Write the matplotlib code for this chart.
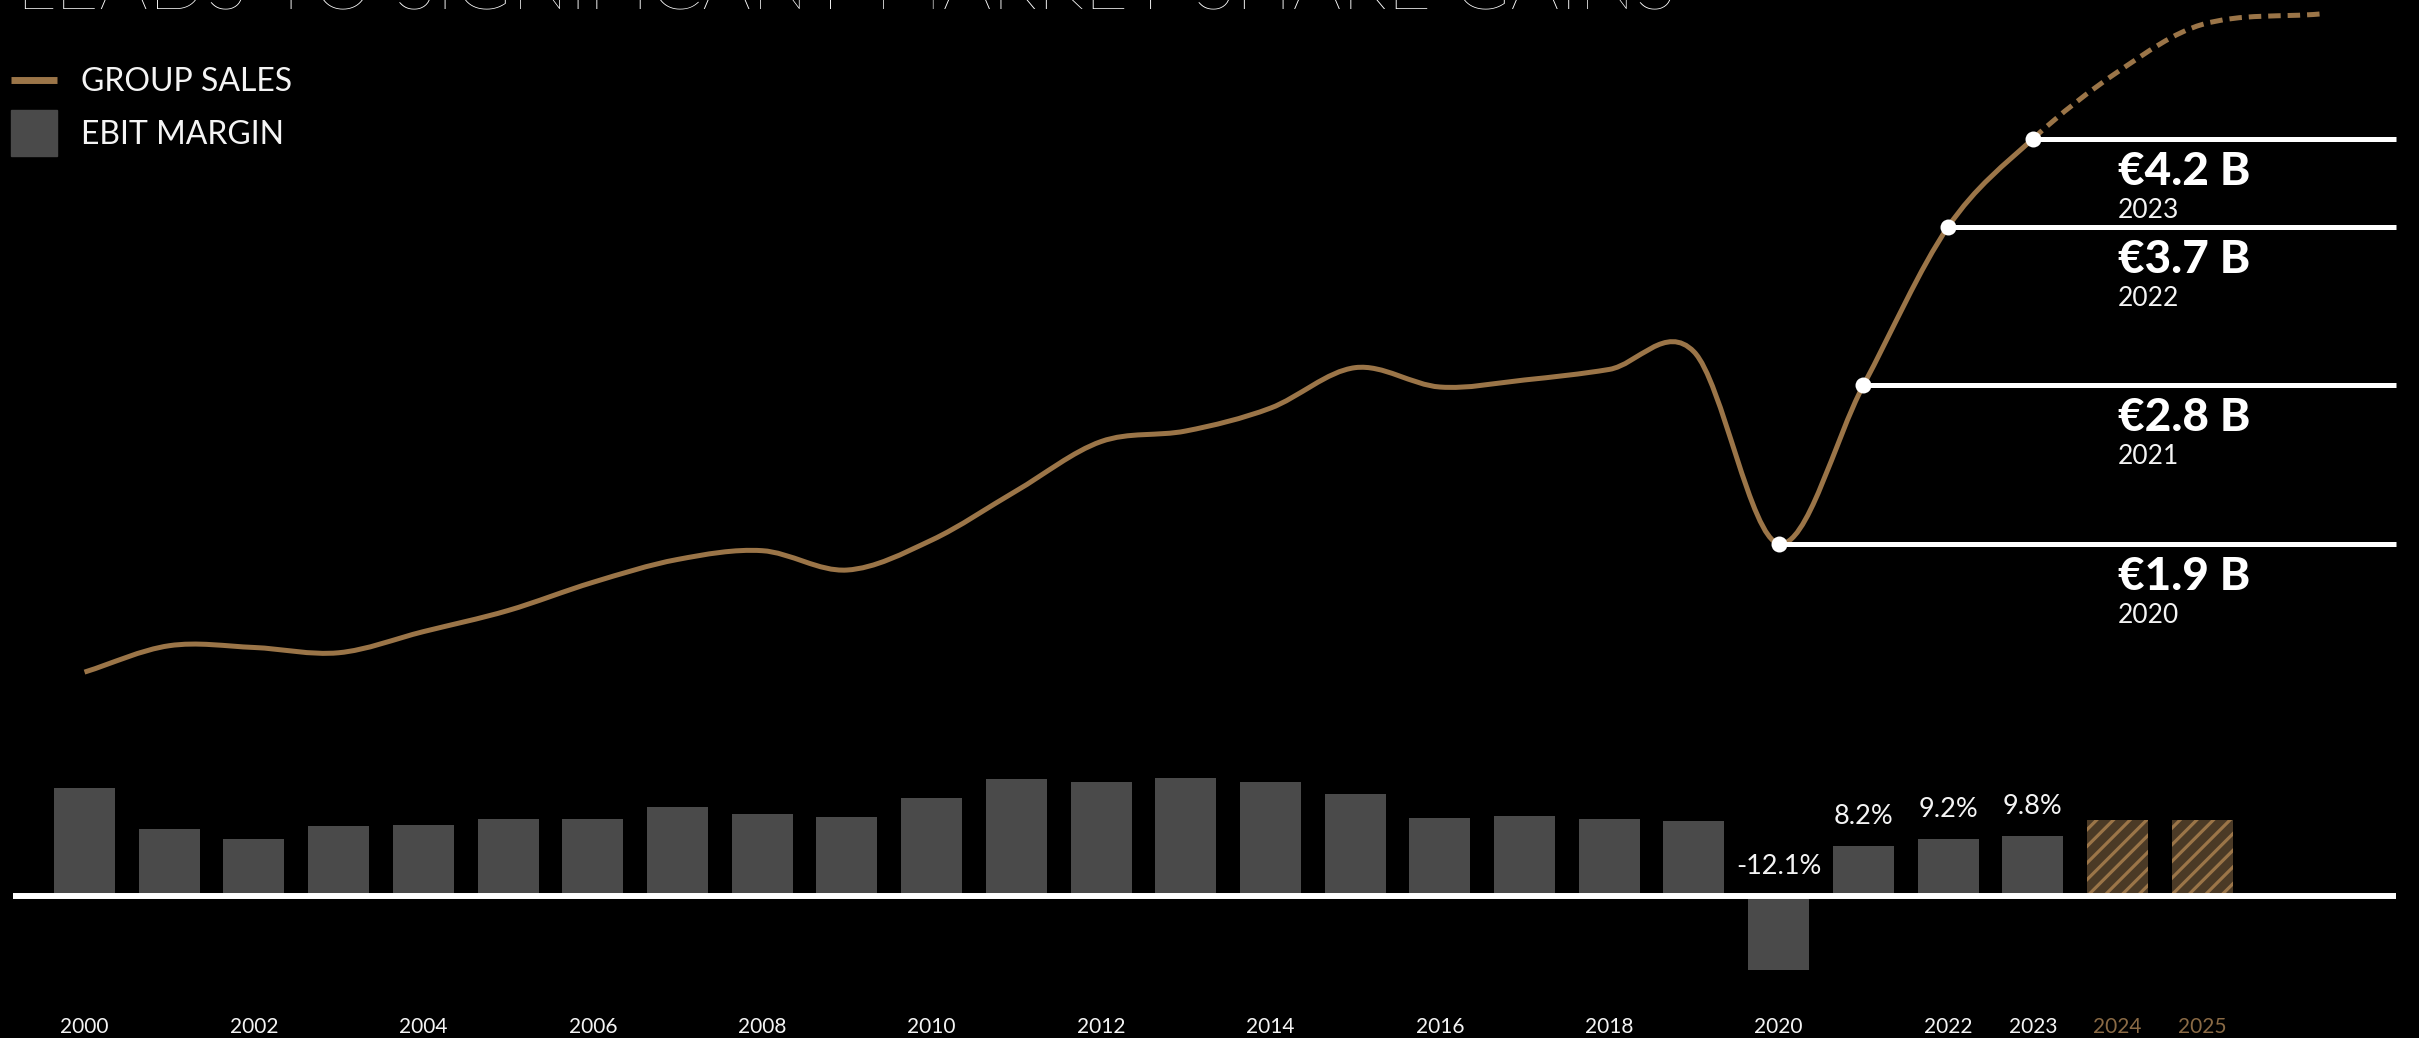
import matplotlib
matplotlib.use("Agg")
import matplotlib.pyplot as plt
import numpy as np
from matplotlib.path import Path
from matplotlib.patches import PathPatch, Rectangle
from matplotlib.lines import Line2D

plt.rcParams["font.family"] = ["Lato", "DejaVu Sans"]
plt.rcParams["hatch.linewidth"] = 2.3
plt.rcParams["lines.scale_dashes"] = False

W, H, DPI = 2419, 1038, 100

BG = "#000000"
BRONZE = "#9b7548"
BAR_GREY = "#4a4a4a"
HATCH_BG = "#4b3a26"
FUTURE_LABEL = "#8a6a45"
TEXT = "#f4f4f4"

# Group sales, EUR billion
sales_years = list(range(2000, 2024))
sales = [1.17, 1.32, 1.31, 1.28, 1.40, 1.52, 1.68, 1.81, 1.86, 1.75,
         1.92, 2.20, 2.48, 2.54, 2.67, 2.90, 2.79, 2.83, 2.89, 2.99,
         1.9, 2.8, 3.7, 4.2]
forecast_years = [2024, 2025, 2026.4]
forecast_sales = [4.58, 4.85, 4.91]

# EBIT margin, %
margin_years = list(range(2000, 2026))
margin = [17.5, 10.9, 9.2, 11.4, 11.5, 12.6, 12.6, 14.5, 13.4, 12.9,
          15.9, 19.0, 18.5, 19.2, 18.5, 16.6, 12.7, 13.0, 12.5, 12.2,
          -12.1, 8.2, 9.2, 9.8, 12.4, 12.4]
first_forecast_year = 2024

callout_years = [2020, 2021, 2022, 2023]
margin_label_years = [2020, 2021, 2022, 2023]
tick_years = [2000, 2002, 2004, 2006, 2008, 2010, 2012, 2014, 2016, 2018,
              2020, 2022, 2023, 2024, 2025]

title_text = "LEADS TO SIGNIFICANT MARKET SHARE GAINS"


def fx(px):
    return px / W


def fy(py):
    return 1 - py / H


def smooth_path(xs, ys):
    """Cardinal (Catmull-Rom style) curve through the points as cubic Beziers."""
    xs = np.asarray(xs, float)
    ys = np.asarray(ys, float)
    m = np.empty_like(ys)
    m[1:-1] = (ys[2:] - ys[:-2]) / (xs[2:] - xs[:-2])
    m[0] = (ys[1] - ys[0]) / (xs[1] - xs[0])
    m[-1] = (ys[-1] - ys[-2]) / (xs[-1] - xs[-2])
    verts = [(xs[0], ys[0])]
    codes = [Path.MOVETO]
    for i in range(len(xs) - 1):
        dx = xs[i + 1] - xs[i]
        verts += [(xs[i] + dx / 3, ys[i] + m[i] * dx / 3),
                  (xs[i + 1] - dx / 3, ys[i + 1] - m[i + 1] * dx / 3),
                  (xs[i + 1], ys[i + 1])]
        codes += [Path.CURVE4] * 3
    return verts, codes


fig = plt.figure(figsize=(W / DPI, H / DPI), dpi=DPI, facecolor=BG)

px_per_year = 84.71
x_left = 2000 - 84.5 / px_per_year
xlim = (x_left, x_left + W / px_per_year)
line_end = x_left + 2396 / px_per_year

ax_bar = fig.add_axes([0, 0, 1, 1])
ax_bar.set_xlim(xlim)
ax_bar.set_ylim(-23.09, 145.69)
ax_bar.axis("off")

ax_line = fig.add_axes([0, 0, 1, 1])
ax_line.set_xlim(xlim)
ax_line.set_ylim(-0.909, 4.989)
ax_line.axis("off")

# --- EBIT margin bars
hist_x = [y for y in margin_years if y < first_forecast_year]
hist_v = [v for y, v in zip(margin_years, margin) if y < first_forecast_year]
fc_x = [y for y in margin_years if y >= first_forecast_year]
fc_v = [v for y, v in zip(margin_years, margin) if y >= first_forecast_year]

ax_bar.bar(hist_x, hist_v, width=0.72, color=BAR_GREY, linewidth=0, zorder=2)
ax_bar.bar(fc_x, fc_v, width=0.72, facecolor=HATCH_BG, edgecolor=BRONZE,
           hatch="//", linewidth=0, zorder=2)
ax_bar.hlines(0, x_left + 13 / px_per_year, line_end, color="white",
              linewidth=4.3, zorder=3)

for yr in margin_label_years:
    v = margin[margin_years.index(yr)]
    ax_bar.annotate(f"{v:.1f}%", xy=(yr, max(v, 0)), xytext=(0, 22),
                    textcoords="offset pixels", ha="center", va="baseline",
                    fontsize=19.5, color=TEXT)

for yr in tick_years:
    ax_bar.text(yr, fy(1033), str(yr), transform=ax_bar.get_xaxis_transform(),
                ha="center", va="baseline", fontsize=15,
                color=FUTURE_LABEL if yr >= first_forecast_year else TEXT)

# --- group sales curve: actuals solid, outlook dashed
all_x = sales_years + forecast_years
all_y = sales + forecast_sales
verts, codes = smooth_path(all_x, all_y)
n_solid = 1 + 3 * (len(sales_years) - 1)
solid = Path(verts[:n_solid], codes[:n_solid])
dashed = Path(verts[n_solid - 1:], [Path.MOVETO] + codes[n_solid:])
ax_line.add_patch(PathPatch(solid, fill=False, edgecolor=BRONZE,
                            linewidth=3.6, capstyle="butt", zorder=3))
ax_line.add_patch(PathPatch(dashed, fill=False, edgecolor=BRONZE,
                            linewidth=3.6, linestyle=(0, (9, 5)),
                            capstyle="butt", zorder=3))

# callouts: leader line from each dot, value and year underneath
for yr in callout_years:
    v = sales[sales_years.index(yr)]
    ax_line.hlines(v, yr, line_end, color="white", linewidth=3.6, zorder=4)
    ax_line.plot(yr, v, "o", color="white", markersize=11.5,
                 markeredgewidth=0, zorder=5)
    ax_line.annotate(f"€{v:.1f} B", xy=(2024, v), xytext=(0, -46),
                     textcoords="offset pixels", ha="left", va="baseline",
                     fontsize=33, fontweight="black", color="white")
    ax_line.annotate(str(yr), xy=(2024, v), xytext=(0, -79),
                     textcoords="offset pixels", ha="left", va="baseline",
                     fontsize=19, color=TEXT)

# --- legend
fig.add_artist(Line2D([fx(11), fx(57)], [fy(79.5), fy(79.5)],
                      transform=fig.transFigure, color=BRONZE, linewidth=5,
                      solid_capstyle="butt"))
fig.add_artist(Rectangle((fx(11), fy(156)), fx(57) - fx(11), 46 / H,
                         transform=fig.transFigure, color=BAR_GREY))
fig.text(fx(81), fy(90.7), "GROUP SALES", ha="left", va="baseline",
         fontsize=23, color=TEXT)
fig.text(fx(81), fy(144), "EBIT MARGIN", ha="left", va="baseline",
         fontsize=23, color=TEXT)

# --- headline, sized to run across the top
title = fig.text(fx(16), fy(10), title_text, ha="left", va="baseline",
                 fontsize=60, fontweight="light", color="white")
renderer = fig.canvas.get_renderer()
w = title.get_window_extent(renderer).width
title.set_fontsize(60 * 1660 / w)

fig.savefig("out.png", dpi=DPI, facecolor=BG)
